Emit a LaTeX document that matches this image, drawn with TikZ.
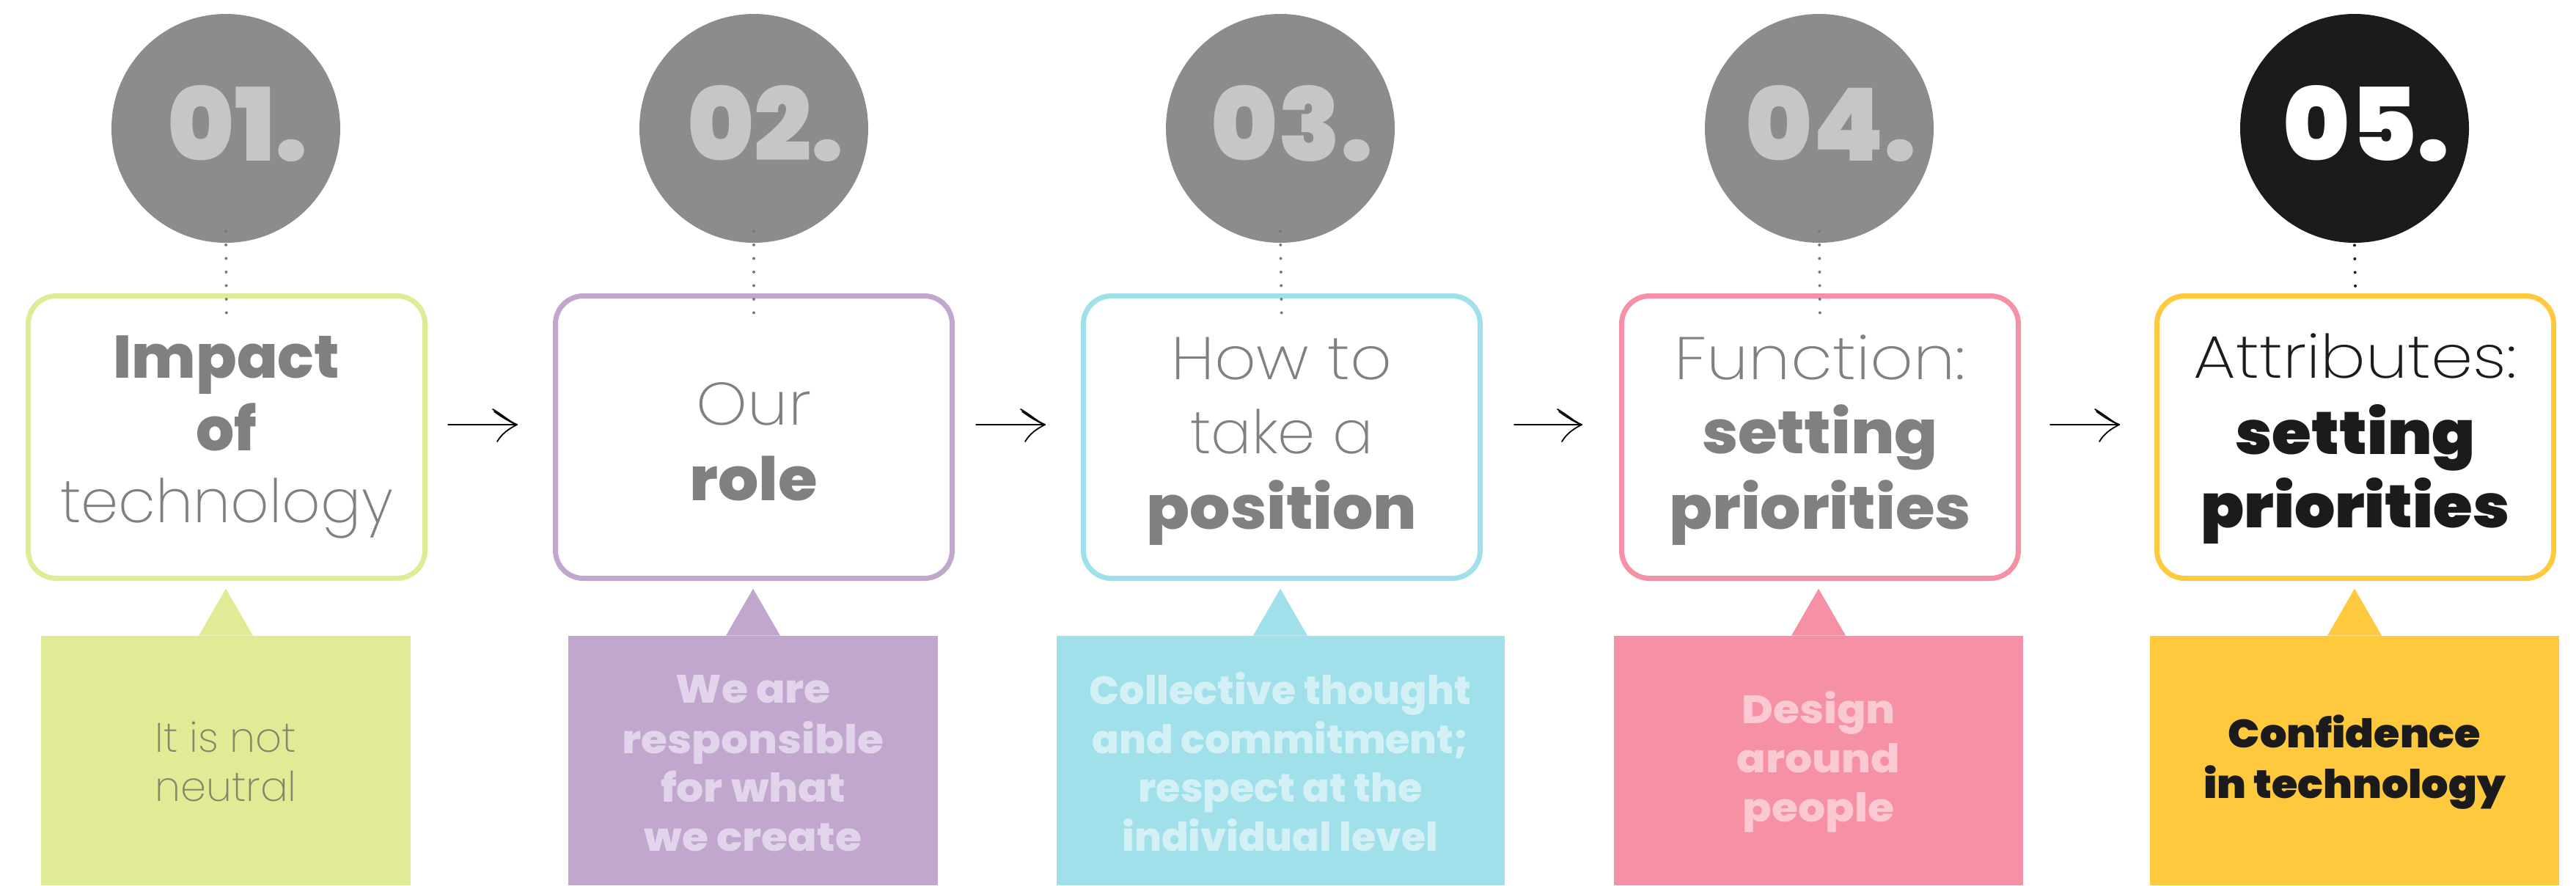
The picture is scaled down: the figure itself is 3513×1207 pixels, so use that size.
\documentclass[tikz,border=0pt]{standalone}
\usepackage{fontspec}
\setmainfont{Poppins}
\newfontfamily\flight{Poppins ExtraLight}
\newfontfamily\flightw{Poppins ExtraLight}[FakeStretch=1.08]
\newfontfamily\flightx{Poppins ExtraLight}[FakeStretch=1.12]
\newfontfamily\fbold{Poppins ExtraBold}
\newfontfamily\fboldw{Poppins ExtraBold}[FakeStretch=1.06]
\newfontfamily\fboldc{Poppins ExtraBold}[FakeStretch=1.08]
\newfontfamily\fblack{Poppins Black}
\newfontfamily\fblackw{Poppins Black}[FakeStretch=1.06]
\definecolor{circgray}{HTML}{8C8C8C}
\definecolor{numgray}{HTML}{C6C6C6}
\definecolor{darkc}{HTML}{1B1B1B}
\definecolor{boxgray}{HTML}{808080}
\definecolor{dotgray}{HTML}{7A7A7A}
\definecolor{colA}{HTML}{E1EB96}
\definecolor{colB}{HTML}{C1A6CE}
\definecolor{colC}{HTML}{A0E0EA}
\definecolor{colD}{HTML}{F590A5}
\definecolor{colE}{HTML}{FEC93C}
\definecolor{txtA}{HTML}{85856B}
\definecolor{txtB}{HTML}{E2D5EB}
\definecolor{txtC}{HTML}{D3F0F5}
\definecolor{txtD}{HTML}{FAC9D3}
\tikzset{
  numcirc/.style={circle, fill=circgray, minimum size=156pt, inner sep=0pt},
  stepframe/.style={draw, rounded corners=19pt, line width=3.5pt, minimum width=270.5pt, minimum height=192.5pt, inner sep=0pt, fill=white},
  callout/.style={rectangle, inner sep=0pt, minimum height=170pt},
  boxlight/.style={anchor=base, inner sep=0pt, text=boxgray, font=\flightw\fontsize{41pt}{49pt}\selectfont},
  boxbold/.style={anchor=base, inner sep=0pt, text=boxgray, font=\fboldw\fontsize{41pt}{49pt}\selectfont},
  numtext/.style={anchor=base, inner sep=0pt, text=numgray, font=\fblack\fontsize{69pt}{80pt}\selectfont},
  calbold/.style={anchor=base, inner sep=0pt, font=\fboldc\fontsize{27pt}{33pt}\selectfont},
  callight/.style={anchor=base, inner sep=0pt, font=\flight\fontsize{28pt}{33pt}\selectfont},
  dotline/.style={line width=2pt, line cap=round, dash pattern=on 0pt off 9.25pt},
  arrowline/.style={line width=0.9pt, black, line cap=round},
}
\newcommand{\sketcharrow}[2]{%
  \draw[arrowline] (#1) -- (#2);
  \draw[arrowline] (#2) ++(-33,-21) .. controls +(14,8) and +(-10,-4) .. (#2);
  \draw[arrowline] (#2) ++(-31,-18) .. controls +(12,9) and +(-8,-3) .. (#2);
  \draw[arrowline] (#2) .. controls +(-12,6) and +(6,-10) .. ++(-27,23);
}
\begin{document}
\begin{tikzpicture}[x=0.5pt, y=-0.5pt]
\useasboundingbox (0,0) rectangle (3513,1207);
\fill[white] (0,0) rectangle (3513,1207);

% circles
\node[numcirc] (c1) at (308,175) {};
\node[numcirc] (c2) at (1028,175) {};
\node[numcirc] (c3) at (1746,175) {};
\node[numcirc] (c4) at (2481,175) {};
\node[numcirc, fill=darkc] (c5) at (3211,175) {};
\node[numtext] (n1) at (324,219) {01.};
\node[numtext] (n2) at (1044,219) {02.};
\node[numtext] (n3) at (1762,219) {03.};
\node[numtext] (n4) at (2497,219) {04.};
\node[numtext, text=white] (n5) at (3227,219) {05.};

% step boxes
\node[stepframe, draw=colA] (b1) at (309,596) {};
\node[stepframe, draw=colB] (b2) at (1028,596) {};
\node[stepframe, draw=colC] (b3) at (1748,596) {};
\node[stepframe, draw=colD] (b4) at (2482,596) {};
\node[stepframe, draw=colE] (b5) at (3212,596) {};

% dotted links
\draw[dotline, dotgray] ([yshift=8pt]c1.south) -- ([yshift=-22pt]b1.north);
\draw[dotline, dotgray] ([yshift=8pt]c2.south) -- ([yshift=-22pt]b2.north);
\draw[dotline, dotgray] ([yshift=8pt]c3.south) -- ([yshift=-22pt]b3.north);
\draw[dotline, dotgray] ([yshift=8pt]c4.south) -- ([yshift=-22pt]b4.north);
\draw[dotline, darkc] ([yshift=-1.5pt]c5.south) -- ([yshift=5pt]b5.north);

% box texts
\node[boxbold, font=\fbold\fontsize{41pt}{49pt}\selectfont] (t1a) at (309,515) {Impact};
\node[boxbold, font=\fbold\fontsize{41pt}{49pt}\selectfont] (t1b) at (309,614) {of};
\node[boxlight, font=\flight\fontsize{41pt}{49pt}\selectfont] (t1c) at (309,712) {technology};
\node[boxlight] (t2a) at (1028,579) {Our};
\node[boxbold] (t2b) at (1028,682) {role};
\node[boxlight] (t3a) at (1748,517) {How to};
\node[boxlight, font=\flight\fontsize{41pt}{49pt}\selectfont] (t3b) at (1748,618) {take a};
\node[boxbold] (t3c) at (1748,721) {position};
\node[boxlight, font=\flightx\fontsize{41pt}{49pt}\selectfont] (t4a) at (2482,517) {Function:};
\node[boxbold] (t4b) at (2482,618) {setting};
\node[boxbold] (t4c) at (2482,721) {priorities};
\node[boxlight, text=darkc, font=\flightx\fontsize{41pt}{49pt}\selectfont] (t5a) at (3212,515) {Attributes:};
\node[boxbold, text=darkc, font=\fblackw\fontsize{41pt}{49pt}\selectfont] (t5b) at (3212,619) {setting};
\node[boxbold, text=darkc, font=\fblackw\fontsize{41pt}{49pt}\selectfont] (t5c) at (3212,719) {priorities};

% arrows
\coordinate (a1s) at (611,579); \coordinate (a1e) at (705,579);
\coordinate (a2s) at (1331,579); \coordinate (a2e) at (1425,579);
\coordinate (a3s) at (2065,579); \coordinate (a3e) at (2157,579);
\coordinate (a4s) at (2796,579); \coordinate (a4e) at (2890,579);
\sketcharrow{a1s}{a1e}
\sketcharrow{a2s}{a2e}
\sketcharrow{a3s}{a3e}
\sketcharrow{a4s}{a4e}

% callouts
\node[callout, fill=colA, minimum width=252pt] (k1) at (308,1037) {};
\node[callout, fill=colB, minimum width=252pt] (k2) at (1027,1037) {};
\node[callout, fill=colC, minimum width=305.5pt] (k3) at (1746,1037) {};
\node[callout, fill=colD, minimum width=279pt] (k4) at (2480,1037) {};
\node[callout, fill=colE, minimum width=279pt] (k5) at (3211,1037) {};
\foreach \k/\c in {k1/colA, k2/colB, k3/colC, k4/colD, k5/colE}{
  \fill[\c] ([xshift=-18.5pt]\k.north) -- ([yshift=32pt]\k.north) -- ([xshift=18.5pt]\k.north) -- cycle;
}

% callout texts
\node[callight, text=txtA] (s1a) at (308,1025) {It is not};
\node[callight, text=txtA] (s1b) at (308,1092) {neutral};
\node[calbold, text=txtB] (s2a) at (1027,958) {We are};
\node[calbold, text=txtB] (s2b) at (1027,1027) {responsible};
\node[calbold, text=txtB] (s2c) at (1027,1093) {for what};
\node[calbold, text=txtB] (s2d) at (1027,1160) {we create};
\node[calbold, text=txtC, font=\fbold\fontsize{27pt}{33pt}\selectfont] (s3a) at (1746,960) {Collective thought};
\node[calbold, text=txtC, font=\fbold\fontsize{27pt}{33pt}\selectfont] (s3b) at (1746,1027) {and commitment;};
\node[calbold, text=txtC, font=\fbold\fontsize{27pt}{33pt}\selectfont] (s3c) at (1746,1093) {respect at the};
\node[calbold, text=txtC, font=\fbold\fontsize{27pt}{33pt}\selectfont] (s3d) at (1746,1160) {individual level};
\node[calbold, text=txtD] (s4a) at (2480,986) {Design};
\node[calbold, text=txtD] (s4b) at (2480,1053) {around};
\node[calbold, text=txtD] (s4c) at (2480,1120) {people};
\node[calbold, text=darkc, font=\fblackw\fontsize{27pt}{33pt}\selectfont] (s5a) at (3211,1019) {Confidence};
\node[calbold, text=darkc, font=\fblackw\fontsize{27pt}{33pt}\selectfont] (s5b) at (3211,1088) {in technology};
\end{tikzpicture}
\end{document}
